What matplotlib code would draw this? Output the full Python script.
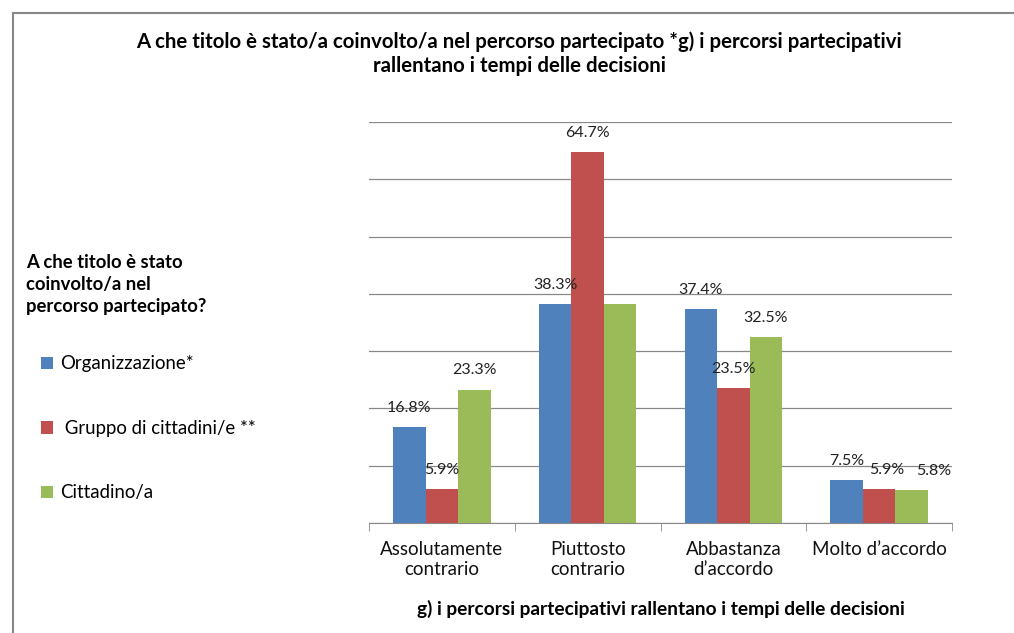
import numpy as np
import matplotlib.pyplot as plt
from matplotlib.patches import Patch
from matplotlib.lines import Line2D

plt.rcParams['font.family'] = ['Lato', 'DejaVu Sans']

# dati
categorie = ['Assolutamente\ncontrario', 'Piuttosto\ncontrario', 'Abbastanza\nd\u2019accordo', 'Molto d\u2019accordo']
organizzazione = [16.8, 38.3, 37.4, 7.5]
gruppo = [5.9, 64.7, 23.5, 5.9]
cittadino = [23.3, 38.3, 32.5, 5.8]
serie = ['Organizzazione*', ' Gruppo di cittadini/e **', 'Cittadino/a']
colori = ['#4F81BD', '#C0504D', '#9BBB59']

fig = plt.figure(figsize=(10.14, 6.33), dpi=100)
ax = fig.add_axes([369 / 1014, 1 - 523 / 633, 583 / 1014, 401 / 633])

x = np.arange(len(categorie))
w = 0.223
valori = [organizzazione, gruppo, cittadino]
for i, (v, c) in enumerate(zip(valori, colori)):
    ax.bar(x + (i - 1) * w, v, width=w, color=c, zorder=3)

# etichette (la seconda 38.3% nascosta come nell'originale)
spost = {(1, 3): 0.05, (2, 3): 0.15}
for i, v in enumerate(valori):
    for j, val in enumerate(v):
        if i == 2 and j == 1:
            continue
        dx = spost.get((i, j), 0)
        ax.text(x[j] + (i - 1) * w + dx, val + 2.1, f'{val:.1f}%', ha='center', va='bottom',
                fontsize=11.5, color='#222222', zorder=4)

ax.set_xlim(-0.5, 3.5)
ax.set_ylim(0, 70)
ax.set_yticks(np.arange(0, 71, 10))
ax.yaxis.grid(True, color='#888888', linewidth=0.9, zorder=0)
ax.tick_params(axis='y', length=0, labelleft=False)
ax.set_xticks(x)
ax.set_xticklabels(categorie, fontsize=13.5, color='#111111')
ax.tick_params(axis='x', which='major', length=0, pad=13)
ax.set_xticks(np.arange(-0.5, 4, 1), minor=True)
ax.tick_params(axis='x', which='minor', length=6, color='#888888')
for s in ['top', 'right', 'left']:
    ax.spines[s].set_visible(False)
ax.spines['bottom'].set_color('#888888')
ax.set_xlabel('g) i percorsi partecipativi rallentano i tempi delle decisioni',
              fontsize=13.8, fontweight='bold', labelpad=16)

fig.text(0.512, 0.915, 'A che titolo è stato/a coinvolto/a nel percorso partecipato *g) i percorsi partecipativi\nrallentano i tempi delle decisioni',
         ha='center', va='center', fontsize=14.7, fontweight='bold', linespacing=1.3)

fig.text(0.026, 0.55, 'A che titolo è stato\ncoinvolto/a nel\npercorso partecipato?',
         ha='left', va='center', fontsize=13.3, fontweight='bold', linespacing=1.35)

handles = [Patch(facecolor=c) for c in colori]
fig.legend(handles, serie, loc='upper left', bbox_to_anchor=(0.024, 0.465), frameon=False,
           fontsize=13.4, labelspacing=2.55, handlelength=0.65, handleheight=0.65, handletextpad=0.35)

# bordo del grafico
fig.add_artist(Line2D([13 / 1014, 13 / 1014], [0, 1 - 13 / 633], color='#888888', linewidth=1.5))
fig.add_artist(Line2D([13 / 1014, 1], [1 - 13 / 633, 1 - 13 / 633], color='#888888', linewidth=1.5))

fig.savefig('out.png', dpi=100)
